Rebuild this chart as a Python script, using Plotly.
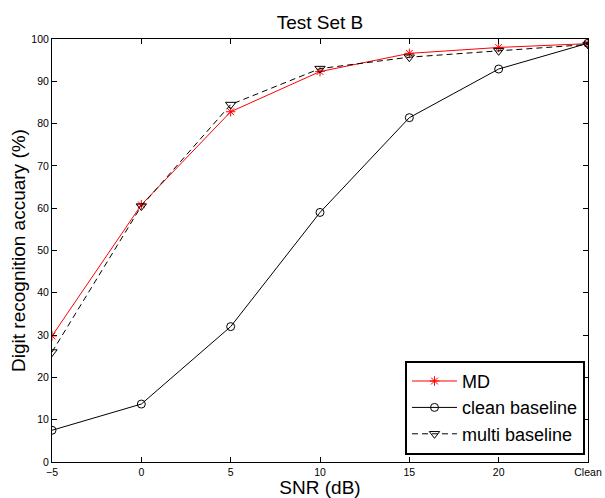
import plotly.graph_objects as go

# SNR conditions, Clean plotted at position 25
snr_pos = [-5, 0, 5, 10, 15, 20, 25]
snr_labels = ["\u22125", "0", "5", "10", "15", "20", "Clean"]

md = [29.8, 60.8, 82.8, 92.3, 96.6, 98.0, 98.9]
clean_baseline = [7.5, 13.7, 32.0, 59.0, 81.4, 92.9, 99.0]
multi_baseline = [26.0, 60.5, 84.5, 93.0, 95.7, 97.2, 98.7]

yticks = list(range(0, 101, 10))

fig = go.Figure()
fig.add_trace(go.Scatter(
    x=snr_pos, y=md, name="MD", mode="lines+markers",
    line=dict(color="red", width=1),
    marker=dict(symbol="asterisk-open", size=8, color="red",
                line=dict(color="red", width=1))
))
fig.add_trace(go.Scatter(
    x=snr_pos, y=clean_baseline, name="clean baseline", mode="lines+markers",
    line=dict(color="black", width=1),
    marker=dict(symbol="circle-open", size=8, color="black",
                line=dict(color="black", width=1))
))
fig.add_trace(go.Scatter(
    x=snr_pos, y=multi_baseline, name="multi baseline", mode="lines+markers",
    line=dict(color="black", width=1, dash="6px,4px"),
    marker=dict(symbol="triangle-down-open", size=9, color="black",
                line=dict(color="black", width=1))
))

fig.update_layout(
    width=605, height=498,
    margin=dict(l=52, r=17, t=39, b=36),
    paper_bgcolor="white", plot_bgcolor="white",
    font=dict(family="Liberation Sans, Arial, sans-serif", color="black"),
    title=dict(text="Test Set B", x=0.5, xref="paper", xanchor="center",
               y=1 - 22 / 498, yanchor="middle", font=dict(size=19)),
    xaxis=dict(
        range=[-5, 25], tickvals=snr_pos, ticktext=snr_labels,
        ticks="inside", ticklen=5, tickcolor="black", mirror="ticks",
        showline=True, linecolor="black", linewidth=1, showgrid=False,
        zeroline=False, tickfont=dict(size=10.5), automargin=False,
        title=dict(text="SNR (dB)", font=dict(size=19), standoff=5),
    ),
    yaxis=dict(
        range=[0, 100], tickvals=yticks,
        ticks="inside", ticklen=5, tickcolor="black", mirror="ticks",
        showline=True, linecolor="black", linewidth=1, showgrid=False,
        zeroline=False, tickfont=dict(size=10.5), automargin=False,
        title=dict(text="Digit recognition accuary (%)", font=dict(size=19), standoff=0),
    ),
    legend=dict(
        x=0.9944, y=0.017, xanchor="right", yanchor="bottom",
        bgcolor="white", bordercolor="black", borderwidth=2,
        font=dict(size=18), tracegroupgap=0, itemwidth=45,
    ),
    showlegend=True,
)

# drop the browser's default 8px body margin so the figure fills the window
fig.write_html("out.html", config={"displayModeBar": False},
               post_script="document.body.style.margin='0';")
